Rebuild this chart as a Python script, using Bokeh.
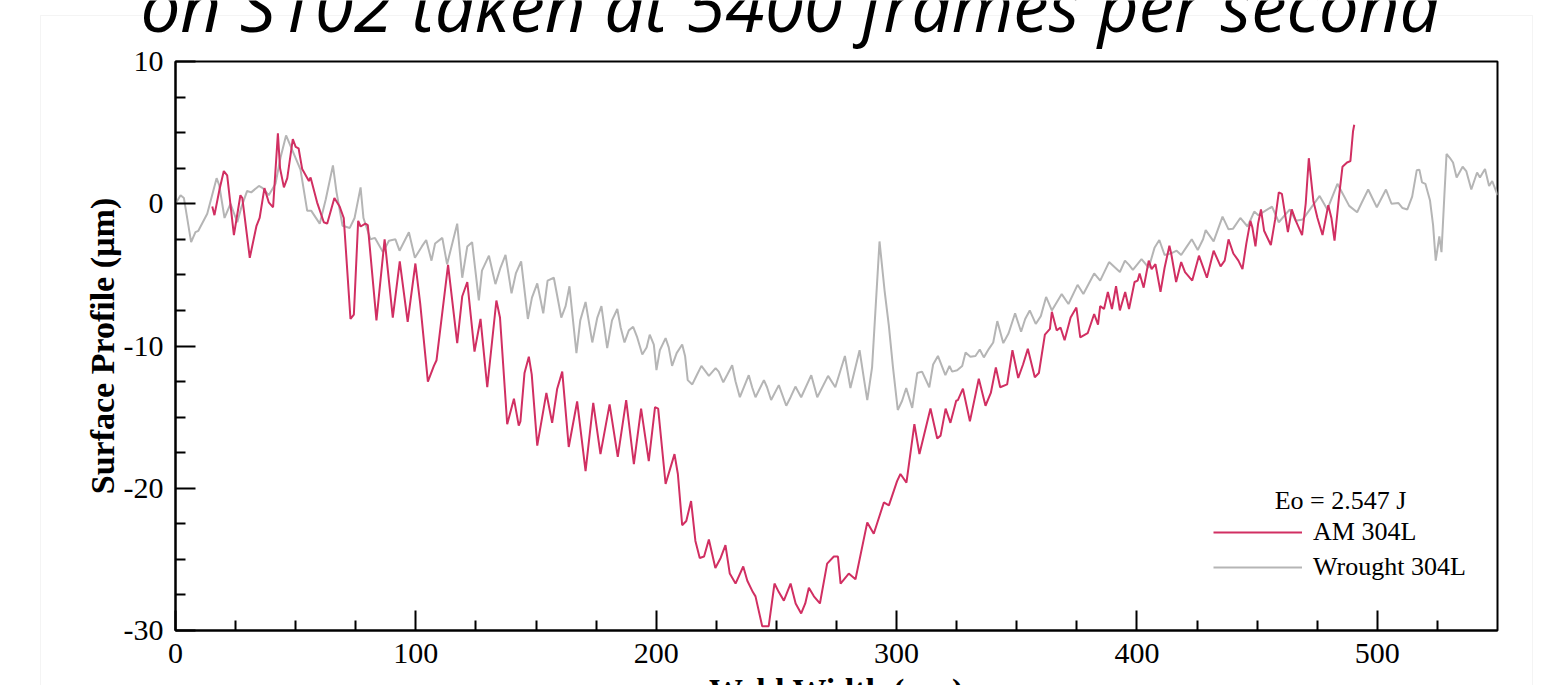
from bokeh.plotting import figure
from bokeh.layouts import column
from bokeh.models import (FixedTicker, Legend, LegendItem, Label, BoxAnnotation, Range1d,
                          CustomJSTickFormatter)
from bokeh.embed import file_html
from bokeh.resources import INLINE

# ---------------- data ----------------
am_x = [15.3, 16.2, 18.3, 20.1, 21.5, 24.3, 27.0, 27.8, 30.9, 33.7, 35.0, 37.0, 38.8, 40.6,
        42.6, 43.5, 45.1, 46.5, 48.8, 50.0, 51.2, 52.7, 55.5, 56.2, 58.9, 61.7, 63.1, 66.1,
        68.3, 70.0, 72.8, 74.2, 76.0, 77.0, 79.0, 80.0, 83.6, 87.0, 90.4, 93.3, 96.6, 99.8,
        101.8, 105.0, 107.5, 108.6, 113.4, 117.2, 119.3, 121.4, 124.4, 126.9, 129.7, 133.5,
        135.0, 138.0, 140.8, 142.8, 143.5, 145.2, 147.0, 148.2, 150.5, 154.3, 156.7, 158.8,
        160.9, 163.6, 167.1, 170.6, 173.8, 176.8, 180.6, 184.0, 187.5, 190.7, 193.7, 196.9,
        199.5, 200.8, 203.9, 207.6, 209.0, 210.8, 212.5, 214.5, 216.3, 218.1, 219.9, 221.9,
        224.6, 226.8, 228.8, 230.6, 233.0, 236.2, 237.9, 240.2, 241.3, 244.1, 246.8, 249.2,
        251.0, 253.1, 255.9, 258.0, 260.3, 262.0, 263.5, 265.6, 268.1, 271.1, 273.9, 275.6,
        276.7, 280.1, 282.9, 287.8, 290.5, 294.7, 296.8, 300.2, 301.6, 304.1, 307.4, 309.5,
        314.1, 316.9, 318.3, 320.4, 322.4, 324.8, 325.5, 327.6, 330.5, 334.2, 337.0, 339.2,
        341.3, 343.1, 346.0, 348.2, 350.6, 352.6, 354.6, 357.5, 359.2, 361.7, 363.8, 364.6,
        366.6, 368.2, 369.9, 372.4, 374.8, 376.4, 379.5, 382.2, 383.8, 384.7, 386.3, 387.9,
        389.6, 391.3, 392.9, 395.1, 396.7, 399.0, 400.3, 401.1, 402.8, 404.9, 406.1, 407.7,
        409.8, 411.5, 413.5, 414.3, 416.3, 418.4, 420.0, 423.0, 425.8, 429.1, 431.9, 434.8,
        436.5, 438.1, 440.1, 442.2, 443.9, 445.5, 447.2, 448.0, 449.3, 450.4, 451.6, 452.9,
        455.7, 457.5, 459.0, 460.3, 462.8, 464.4, 466.1, 468.7, 470.2, 471.5, 473.4, 475.1,
        477.2, 479.6, 480.9, 482.2, 484.1, 485.5, 487.4, 488.8, 489.9, 490.4]
am_y = [-0.2, -0.8, 1.0, 2.3, 2.0, -2.2, 0.6, 0.4, -3.8, -1.55, -1.0, 1.1, 0.1, -0.25,
        4.95, 2.5, 1.15, 1.8, 4.55, 4.0, 3.9, 2.45, 1.6, 1.85, 0.1, -1.3, -1.4, 0.4,
        -0.2, -1.0, -8.1, -7.8, -1.2, -1.6, -1.4, -1.5, -8.2, -2.5, -8.0, -4.05, -8.3, -4.2,
        -7.0, -12.5, -11.4, -11.0, -4.3, -9.8, -6.5, -5.5, -10.4, -8.1, -12.9, -6.8,
        -8.0, -15.5, -13.7, -15.6, -15.3, -11.9, -10.75, -12.0, -17.0, -13.3, -15.4, -13.0,
        -11.8, -17.1, -13.9, -18.8, -14.0, -17.6, -14.1, -17.8, -13.8, -18.3, -14.4, -18.1,
        -14.3, -14.4, -19.7, -17.6, -19.0, -22.6, -22.3, -20.9, -23.7, -24.9, -24.8, -23.6,
        -25.6, -24.9, -24.0, -26.0, -26.7, -25.5, -26.5, -27.3, -27.6, -29.7, -29.7, -26.7,
        -27.3, -27.9, -26.7, -28.1, -28.8, -28.1, -27.0, -27.6, -28.1, -25.3, -24.8, -24.8,
        -26.7, -26.0, -26.4, -22.4, -23.2, -21.0, -21.2, -19.5, -19.0, -19.6, -15.5, -17.6,
        -14.4, -16.5, -16.3, -14.4, -15.4, -13.85, -13.8, -13.0, -15.3, -12.3, -14.2, -13.3,
        -11.5, -12.9, -12.7, -10.3, -12.25, -11.3, -10.2, -12.2, -11.9, -9.2, -8.8, -7.6,
        -8.9, -8.7, -9.6, -8.0, -7.3, -9.4, -9.1, -7.75, -8.5, -7.2, -7.4, -6.2,
        -7.4, -5.8, -7.5, -6.2, -7.4, -5.5, -5.4, -4.9, -5.9, -4.0, -4.6, -4.25,
        -6.2, -4.5, -2.95, -3.55, -5.5, -4.1, -4.8, -5.4, -3.65, -5.2, -3.3, -4.4,
        -4.0, -2.5, -3.5, -4.0, -4.6, -2.8, -1.2, -1.65, -3.0, -1.4, -0.4, -1.9,
        -2.9, -1.1, 0.8, 0.7, -2.0, -0.4, -1.2, -2.2, 0.0, 3.2, 0.2, -1.0,
        -2.2, -0.1, -1.0, -2.6, 0.55, 2.6, 2.9, 3.0, 5.1, 5.55]

wr_x = [0.0, 2.1, 3.5, 6.5, 8.3, 9.5, 13.2, 17.1, 18.2, 20.4, 22.9, 25.7, 27.5, 29.8, 31.5,
        34.7, 36.3, 38.8, 41.6, 43.7, 46.0, 48.5, 52.0, 54.8, 56.5, 60.0, 62.5, 65.5, 67.0,
        69.5, 72.5, 74.5, 77.0, 78.2, 81.1, 83.0, 86.3, 88.8, 91.5, 93.2, 97.1, 99.6, 102.5,
        104.3, 106.5, 108.0, 111.0, 113.0, 117.2, 119.3, 121.4, 123.4, 126.2, 127.5, 130.4,
        133.1, 135.2, 137.3, 139.8, 141.6, 143.8, 146.6, 148.3, 150.5, 153.0, 154.8, 157.4,
        160.5, 162.3, 163.9, 166.8, 168.4, 170.6, 173.4, 175.5, 177.2, 179.6, 181.6, 183.8,
        185.2, 186.8, 188.6, 190.4, 192.1, 194.2, 196.0, 197.3, 199.0, 200.1, 201.5, 203.9,
        205.2, 206.6, 208.5, 210.8, 212.0, 213.1, 215.0, 217.0, 218.8, 221.9, 224.7, 226.0,
        227.9, 229.6, 231.6, 233.0, 234.8, 238.5, 239.9, 241.3, 244.8, 246.1, 247.8, 251.0,
        254.1, 255.9, 257.9, 260.3, 264.5, 267.0, 271.5, 274.5, 278.5, 280.8, 284.6, 286.5,
        287.8, 289.8, 292.9, 295.0, 296.8, 298.5, 300.5, 302.3, 304.0, 306.5, 308.6, 310.6,
        313.6, 315.2, 317.2, 320.3, 322.0, 323.1, 325.2, 327.3, 328.7, 330.7, 332.8, 334.6,
        336.3, 338.4, 340.2, 341.9, 344.4, 346.6, 349.3, 351.8, 353.5, 355.4, 357.9, 360.0,
        362.2, 364.6, 368.7, 371.5, 375.3, 377.7, 382.2, 384.7, 388.4, 392.9, 395.0, 396.7,
        398.3, 401.9, 404.9, 407.3, 409.3, 411.5, 414.0, 416.5, 418.4, 420.8, 422.8, 425.3,
        427.5, 428.6, 431.9, 435.6, 438.1, 440.0, 443.0, 446.0, 448.8, 450.5, 456.2, 459.0,
        463.6, 466.1, 469.0, 476.0, 479.2, 483.4, 485.0, 488.3, 491.6, 493.3, 496.2, 499.8,
        503.6, 505.9, 508.8, 510.5, 512.5, 514.5, 516.4, 517.5, 518.6, 520.0, 521.9, 523.2,
        524.3, 525.8, 526.7, 527.9, 528.8, 530.5, 531.5, 533.0, 535.5, 537.0, 539.1, 541.5,
        542.7, 544.8, 546.5, 547.8, 549.6, 550.0]
wr_y = [0.0, 0.6, 0.4, -2.7, -2.0, -1.9, -0.7, 1.8, 1.3, -1.0, 0.0, -1.3, -0.2, 0.9, 0.8,
        1.25, 1.1, 0.6, 1.4, 3.25, 4.8, 3.8, 2.4, -0.5, -0.5, -1.4, 0.3, 2.7, 0.8,
        -1.55, -1.7, -1.0, 1.15, -1.0, -2.5, -2.4, -3.4, -2.6, -2.5, -3.3, -2.0, -3.8, -3.0,
        -2.55, -4.0, -2.8, -2.4, -4.25, -1.4, -5.2, -3.0, -2.7, -6.8, -4.7, -3.65,
        -5.65, -4.5, -3.6, -6.3, -4.9, -4.05, -8.1, -6.6, -5.6, -7.7, -5.4, -5.2,
        -8.0, -7.2, -5.8, -10.5, -8.2, -6.9, -9.75, -8.0, -7.2, -10.15, -8.2, -7.4,
        -8.7, -9.75, -8.9, -8.65, -9.4, -10.6, -10.1, -9.2, -9.9, -11.7, -10.3, -9.45,
        -10.1, -11.4, -10.5, -9.9, -10.7, -12.4, -12.7, -12.0, -11.4, -12.1, -11.55, -11.8,
        -12.55, -12.0, -11.35, -12.5, -13.6, -12.05, -12.9, -13.6, -12.4, -12.9, -13.8, -12.75,
        -14.2, -13.6, -12.85, -13.6, -12.05, -13.6, -12.1, -12.9, -10.7, -12.95, -10.3, -12.4,
        -13.8, -11.5, -2.65, -6.1, -8.6, -11.5, -14.5, -13.85, -12.95, -14.35, -11.9, -11.8,
        -12.9, -11.3, -10.7, -12.05, -11.4, -11.8, -11.7, -11.4, -10.45, -10.75, -10.7, -10.25,
        -10.8, -10.2, -9.75, -8.25, -9.8, -9.1, -7.7, -9.0, -8.1, -7.5, -8.45, -7.9,
        -6.55, -7.5, -6.35, -7.05, -5.7, -6.35, -4.9, -5.4, -4.1, -4.8, -4.0, -4.3,
        -4.65, -3.9, -4.5, -3.1, -2.55, -3.6, -3.5, -3.3, -3.6, -3.0, -2.5, -3.25,
        -2.5, -1.85, -2.65, -0.9, -1.8, -1.75, -1.0, -1.6, -0.55, -0.8, -0.2, -1.3,
        -0.4, -1.2, -1.1, 0.55, -0.4, 1.4, 0.9, -0.15, -0.6, 0.0, 1.0, -0.25,
        1.0, 0.0, 0.05, -0.3, -0.4, 0.5, 2.35, 2.4, 1.5, 1.4, 0.25, -1.5,
        -4.0, -2.3, -3.4, 0.6, 3.5, 3.15, 2.9, 1.85, 2.6, 2.3, 1.0, 2.2,
        1.85, 2.45, 1.25, 1.6, 0.8, 0.6]

x_major = [0, 100, 200, 300, 400, 500]
x_minor = [25, 50, 75, 125, 150, 175, 225, 250, 275, 325, 350, 375, 425, 450, 475, 525]
y_major = [-30, -20, -10, 0, 10]
y_minor = [-27.5, -25, -22.5, -17.5, -15, -12.5, -7.5, -5, -2.5, 2.5, 5, 7.5]

series_names = ["AM 304L", "Wrought 304L"]
legend_title = "Eo = 2.547 J"
x_label = "Weld Width (µm)"
y_label = "Surface Profile (µm)"
slide_title = "on S102 taken at 5400 frames per second"

RED = "#d12f62"
GREY = "#b5b5b5"
SERIF = "Liberation Serif"
W, H = 1550, 685

# ---------------- main chart ----------------
p = figure(width=W, height=H, x_range=Range1d(0, 550), y_range=Range1d(-30, 10),
           output_backend="svg", toolbar_location=None,
           min_border_left=175, min_border_right=53, min_border_top=61, min_border_bottom=55)
p.background_fill_color = "white"
p.border_fill_color = "white"
p.xgrid.grid_line_color = None
p.ygrid.grid_line_color = None
p.outline_line_color = "black"
p.outline_line_width = 2
p.outline_line_alpha = 1.0

r_wr = p.line(wr_x, wr_y, line_color=GREY, line_width=2)
r_am = p.line(am_x, am_y, line_color=RED, line_width=2)

p.xaxis.ticker = FixedTicker(ticks=x_major, minor_ticks=x_minor)
p.yaxis.ticker = FixedTicker(ticks=y_major, minor_ticks=y_minor)
for ax in (p.xaxis, p.yaxis):
    ax.formatter = CustomJSTickFormatter(code="return tick.toFixed(0);")
    ax.axis_line_color = "black"
    ax.axis_line_width = 2
    ax.major_tick_line_color = "black"
    ax.major_tick_line_width = 2
    ax.minor_tick_line_color = "black"
    ax.minor_tick_line_width = 2
    ax.major_tick_in = 20
    ax.major_tick_out = 0
    ax.minor_tick_in = 10
    ax.minor_tick_out = 0
    ax.major_label_text_font = SERIF
    ax.major_label_text_font_size = "30px"
    ax.major_label_text_color = "black"
p.xaxis.major_label_standoff = 13
p.yaxis.major_label_standoff = 12

p.yaxis.axis_label = y_label
p.yaxis.axis_label_text_font = SERIF
p.yaxis.axis_label_text_font_style = "bold"
p.yaxis.axis_label_text_font_size = "34px"
p.yaxis.axis_label_text_color = "black"
p.yaxis.axis_label_standoff = 0

# legend
p.add_layout(Label(x=1165, y=130, x_units="screen", y_units="screen", text=legend_title,
                   text_font=SERIF, text_font_size="26px", text_align="center",
                   text_baseline="middle", text_color="black"))
legend = Legend(items=[LegendItem(label=series_names[0], renderers=[r_am]),
                       LegendItem(label=series_names[1], renderers=[r_wr])],
                location=(1038, 48), orientation="vertical",
                label_text_font=SERIF, label_text_font_size="26px", label_text_color="black",
                glyph_width=89, glyph_height=30, label_height=30, label_standoff=11,
                spacing=5, padding=0, margin=0,
                border_line_color=None, background_fill_alpha=0)
p.add_layout(legend)

# ---------------- transparent overlay: slide frame, slide title, x-axis title ----------------
deco = figure(width=W, height=H, x_range=Range1d(0, W), y_range=Range1d(H, 0),
              output_backend="svg", toolbar_location=None,
              x_axis_type=None, y_axis_type=None,
              min_border_left=0, min_border_right=0, min_border_top=0, min_border_bottom=0)
if "frame_align" in deco.properties():
    deco.frame_align = False
deco.outline_line_color = None
deco.background_fill_alpha = 0
deco.border_fill_alpha = 0
deco.styles = {"margin-top": f"-{H}px"}

deco.add_layout(BoxAnnotation(left=40, right=1532, top=15, bottom=H + 20,
                              fill_color=None, fill_alpha=0,
                              line_color="#d9d9d9", line_width=1))
deco.add_layout(Label(x=790, y=4, text=slide_title,
                      text_font="Open Sans", text_font_style="italic", text_font_size="71px",
                      text_align="center", text_baseline="middle", text_color="black"))
deco.add_layout(Label(x=836, y=671, text=x_label,
                      text_font=SERIF, text_font_style="bold", text_font_size="34px",
                      text_align="center", text_baseline="top", text_color="black"))

layout = column(p, deco, spacing=0)
open("out.html", "w").write(file_html(layout, INLINE))
